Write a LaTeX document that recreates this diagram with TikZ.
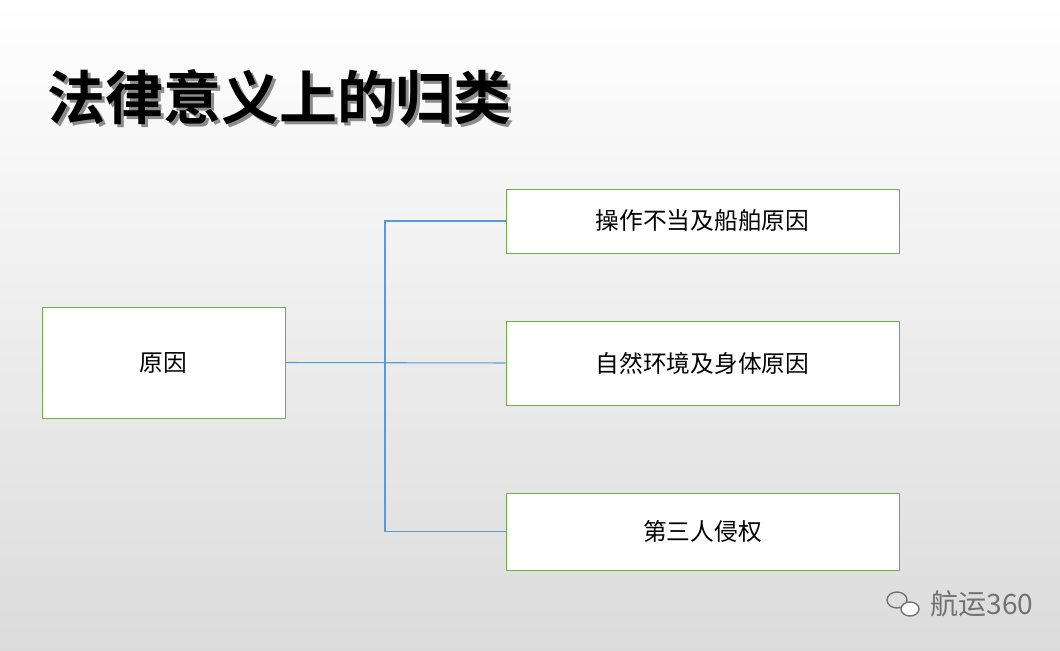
\documentclass[tikz,border=0pt]{standalone}
\usepackage{fontspec}
\newfontfamily\cjk{Noto Sans CJK SC}
\newfontfamily\cjkb{Noto Sans CJK SC Bold}
\begin{document}
\begin{tikzpicture}[x=0.02cm,y=-0.02cm,
  box/.style={draw={rgb,255:red,112;green,173;blue,71},line width=0.5pt,fill=white,inner sep=0pt},
  lbl/.style={font=\cjk\fontsize{13.5}{15}\selectfont,text=black},
  con/.style={draw={rgb,255:red,91;green,155;blue,213},line width=0.6pt}]
\shade[top color=white,bottom color=black!14] (0,0) rectangle (1060,651);
\useasboundingbox (0,0) rectangle (1060,651);
\node[font=\cjkb\fontsize{33}{38}\selectfont,text=black!45,anchor=west] at (44,100) {法律意义上的归类};
\node[font=\cjkb\fontsize{33}{38}\selectfont,anchor=west] (title) at (41,97) {法律意义上的归类};
\node[box,minimum width=243*0.02cm,minimum height=111*0.02cm] (a) at (163.5,362.5) {};
\node[lbl] at (a) {原因};
\node[box,minimum width=393*0.02cm,minimum height=64*0.02cm] (b1) at (702.5,221) {};
\node[lbl] at (b1) {操作不当及船舶原因};
\node[box,minimum width=393*0.02cm,minimum height=84*0.02cm] (b2) at (702.5,363) {};
\node[lbl] at (b2) {自然环境及身体原因};
\node[box,minimum width=393*0.02cm,minimum height=77*0.02cm] (b3) at (702.5,531.5) {};
\node[lbl] at (b3) {第三人侵权};
\coordinate (j) at (385,363);
\draw[con] (a.east) -- (b2.west);
\draw[con] (b1.west) -| (j) |- (b3.west);
\node[font=\cjk\fontsize{16}{18}\selectfont,text=black!55,anchor=west] (wm) at (924,604) {航运360};
\draw[black!55,line width=0.8pt] (897,600) ellipse (10 and 8);
\draw[black!55,line width=0.8pt,fill=white] (910,609) ellipse (9 and 7);
\end{tikzpicture}
\end{document}
